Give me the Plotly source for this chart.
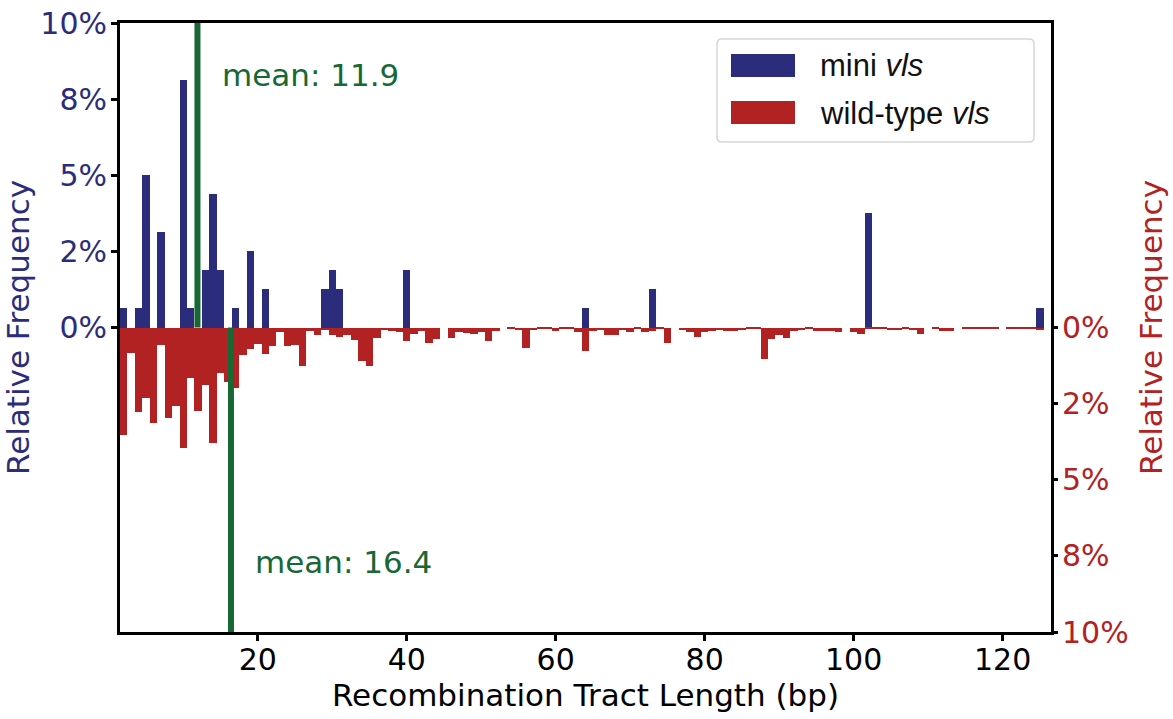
import plotly.graph_objects as go

# ---------------- data ----------------
# mini vls: recombination tract length (bp) and relative frequency (%)
mini_len = [2, 4, 5, 7, 10, 11, 13, 14, 15, 17, 19, 21, 29, 30, 31, 40, 64, 73, 102, 125]
mini_pct = [0.625, 0.625, 5.0, 3.125, 8.125, 0.625, 1.875, 4.375, 1.875, 0.625,
            2.5, 1.25, 1.25, 1.875, 1.25, 1.875, 0.625, 1.25, 3.75, 0.625]

# wild-type vls: tract length bins 2..126 bp and relative frequency (%)
wt_len = list(range(2, 127))
wt_pct = [
    3.52, 0.84, 2.77, 2.32, 3.13, 0.58, 2.97, 2.58, 3.95, 1.66,   # 2-11
    2.74, 1.89, 3.79, 1.50, 1.80, 1.99, 0.91, 0.71, 0.55, 0.88,   # 12-21
    0.61, 0.15, 0.61, 0.58, 1.27, 0.12, 0.25, 0.07, 0.25, 0.32,   # 22-31
    0.25, 0.42, 1.11, 1.27, 0.35, 0.09, 0.12, 0.15, 0.45, 0.22,   # 32-41
    0.12, 0.51, 0.38, 0.00, 0.35, 0.15, 0.19, 0.22, 0.15, 0.45,   # 42-51
    0.12, 0.00, 0.03, 0.09, 0.68, 0.09, 0.05, 0.03, 0.12, 0.06,   # 52-61
    0.03, 0.15, 0.78, 0.12, 0.07, 0.25, 0.25, 0.07, 0.15, 0.03,   # 62-71
    0.15, 0.12, 0.03, 0.51, 0.00, 0.07, 0.15, 0.32, 0.15, 0.12,   # 72-81
    0.07, 0.10, 0.10, 0.07, 0.03, 0.03, 1.04, 0.38, 0.25, 0.35,   # 82-91
    0.10, 0.07, 0.03, 0.12, 0.10, 0.10, 0.15, 0.00, 0.15, 0.22,   # 92-101
    0.03, 0.03, 0.03, 0.07, 0.07, 0.03, 0.07, 0.20, 0.00, 0.03,   # 102-111
    0.10, 0.10, 0.00, 0.03, 0.03, 0.03, 0.03, 0.03, 0.00, 0.03,   # 112-121
    0.03, 0.03, 0.03, 0.07, 0.00,                                 # 122-126
]

mean_mini = 11.9
mean_wt = 16.4

x_ticks = [20, 40, 60, 80, 100, 120]
y_ticks = [0, 2.5, 5, 7.5, 10]
y_ticktext = ["0%", "2%", "5%", "8%", "10%"]

# ---------------- style ----------------
BLUE = "#2b2c7c"
RED = "#b22222"
GREEN = "#176834"
FONT = "DejaVu Sans"

fig = go.Figure()
fig.add_trace(go.Bar(x=mini_len, y=mini_pct, width=1, marker=dict(color=BLUE, line=dict(width=0)),
                     name="mini vls", yaxis="y", showlegend=False))
fig.add_trace(go.Bar(x=wt_len, y=wt_pct, width=1, marker=dict(color=RED, line=dict(width=0)),
                     name="wild-type vls", yaxis="y2", showlegend=False))

# mean lines
fig.add_shape(type="line", xref="x", yref="y", x0=mean_mini, x1=mean_mini, y0=0, y1=10,
              line=dict(color=GREEN, width=6), layer="above")
fig.add_shape(type="line", xref="x", yref="y", x0=mean_wt, x1=mean_wt, y0=0, y1=-10,
              line=dict(color=GREEN, width=6), layer="above")

fig.add_annotation(x=mean_mini + 3, y=8.3, xref="x", yref="y", text=f"mean: {mean_mini}",
                   showarrow=False, xanchor="left", yanchor="middle",
                   font=dict(family=FONT, size=31, color=GREEN))
fig.add_annotation(x=mean_wt + 3, y=-7.7, xref="x", yref="y", text=f"mean: {mean_wt}",
                   showarrow=False, xanchor="left", yanchor="middle",
                   font=dict(family=FONT, size=31, color=GREEN))

# ---------------- geometry ----------------
W, H = 1173, 719
L, R, T, B = 120, 1051, 23, 632


def px(xp):
    return (xp - L) / (R - L)


def py(yp):
    return (B - yp) / (B - T)


# ---------------- custom legend (paper coords) ----------------
bx0, bx1, by0, by1 = px(717), px(1034), py(142), py(39)
rx, ry = 5 / (R - L), 5 / (B - T)
path = (f"M {bx0+rx},{by0} L {bx1-rx},{by0} Q {bx1},{by0} {bx1},{by0+ry} "
        f"L {bx1},{by1-ry} Q {bx1},{by1} {bx1-rx},{by1} L {bx0+rx},{by1} "
        f"Q {bx0},{by1} {bx0},{by1-ry} L {bx0},{by0+ry} Q {bx0},{by0} {bx0+rx},{by0} Z")
fig.add_shape(type="path", xref="paper", yref="paper", path=path,
              line=dict(color="#d6d6d6", width=1.5), fillcolor="rgba(255,255,255,0.8)", layer="above")
fig.add_shape(type="rect", xref="paper", yref="paper", x0=px(731), x1=px(795), y0=py(77), y1=py(54),
              line=dict(width=0), fillcolor=BLUE, layer="above")
fig.add_shape(type="rect", xref="paper", yref="paper", x0=px(731), x1=px(795), y0=py(124), y1=py(101),
              line=dict(width=0), fillcolor=RED, layer="above")
fig.add_annotation(x=px(818), y=py(65), xref="paper", yref="paper", text="mini <i>vls</i>",
                   showarrow=False, xanchor="left", yanchor="middle",
                   font=dict(family="Liberation Sans", size=31, color="#111111"))
fig.add_annotation(x=px(818), y=py(113), xref="paper", yref="paper", text="wild-type <i>vls</i>",
                   showarrow=False, xanchor="left", yanchor="middle",
                   font=dict(family="Liberation Sans", size=31, color="#111111"))

fig.update_layout(
    width=W, height=H,
    margin=dict(l=L, r=W - R, t=T, b=H - B, autoexpand=False),
    plot_bgcolor="white", paper_bgcolor="white",
    barmode="overlay", bargap=0,
    showlegend=False,
    font=dict(family=FONT, size=30, color="black"),
    xaxis=dict(
        range=[1.5, 126.5], tickvals=x_ticks, ticks="outside", ticklen=6, tickwidth=3,
        tickcolor="black", showline=True, linewidth=3, linecolor="black", mirror=True,
        showgrid=False, zeroline=False, automargin=False, ticklabelstandoff=-7,
        ticklabeloverflow="allow",
        tickfont=dict(family=FONT, size=30, color="black"),
        title=dict(text="Recombination Tract Length (bp)", font=dict(family=FONT, size=31, color="black"),
                   standoff=3),
    ),
    yaxis=dict(
        range=[-10, 10], tickvals=y_ticks, ticktext=y_ticktext, ticks="outside", ticklen=6,
        tickwidth=3, tickcolor="black", showline=True, linewidth=3, linecolor="black", mirror=True,
        showgrid=False, zeroline=False, automargin=False, ticklabelstandoff=-2,
        ticklabeloverflow="allow",
        tickfont=dict(family=FONT, size=30, color=BLUE),
        title=dict(text="Relative Frequency", font=dict(family=FONT, size=31, color=BLUE), standoff=14),
    ),
    yaxis2=dict(
        range=[10, -10], overlaying="y", side="right", tickvals=y_ticks, ticktext=y_ticktext,
        ticks="outside", ticklen=6, tickwidth=3, tickcolor="black", showline=False,
        showgrid=False, zeroline=False, automargin=False, ticklabelstandoff=-2,
        ticklabeloverflow="allow",
        tickfont=dict(family=FONT, size=30, color=RED),
        title=dict(text="Relative Frequency", font=dict(family=FONT, size=31, color=RED), standoff=12),
    ),
)

fig.write_html("out.html", config={"displayModeBar": False},
               post_script="document.body.style.margin='0';")
